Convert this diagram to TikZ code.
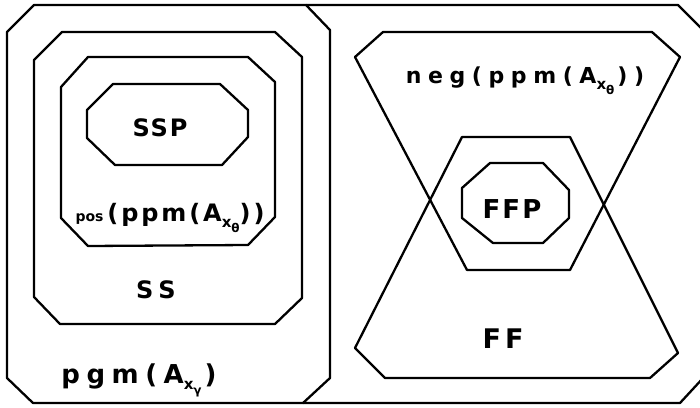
\documentclass[tikz,border=0pt]{standalone}
\usepackage{fontspec}
\setmainfont{DejaVu Sans}
\newcommand{\fsz}[1]{\fontsize{#1}{#1}\selectfont}
\newcommand{\subA}[1]{A\raisebox{-6pt}{\fsz{15}x\raisebox{-5pt}{\fsz{12}#1}}}
\tikzset{
  shape line/.style={draw=black, line width=2.3pt, line join=round},
  label text/.style={anchor=base, inner sep=0pt, font=\bfseries},
}
\begin{document}
\begin{tikzpicture}[x=1pt,y=-1pt]
\useasboundingbox (0,0) rectangle (700,407);
% left outer octagon
\draw[shape line] (34,5)--(306,5)--(330,30)--(330,378)--(303,403)--(33,403)--(7,378)--(7,32)--cycle;
% right outer frame
\draw[shape line] (306,5)--(678,5)--(704,31)--(704,377)--(680,403)--(303,403);
% SS
\draw[shape line] (62,32)--(275,32)--(302,57)--(302,298)--(275,324)--(60,324)--(34,297)--(34,60)--cycle;
% pos
\draw[shape line] (88,57)--(248,57)--(275,82)--(275,217)--(248,245)--(88,246)--(61,218)--(61,87)--cycle;
% SSP
\draw[shape line] (113,84)--(220,84)--(248,110)--(248,137)--(222,165)--(115,165)--(87,138)--(87,110)--cycle;
% neg
\draw[shape line] (383,32)--(652,32)--(680,57)--(570,270)--(467,270)--(355,57)--cycle;
% FF
\draw[shape line] (462,137)--(570,137)--(678,353)--(650,378)--(385,378)--(355,348)--cycle;
% FFP
\draw[shape line] (490,163)--(543,163)--(569,190)--(569,218)--(543,243)--(493,243)--(462,218)--(462,188)--cycle;
% labels
\node[label text] (ssp) at (160,136) {\fsz{24}\addfontfeature{LetterSpace=8}SSP};
\node[label text] (pos) at (170,221) {\fsz{14}pos\hspace{4pt}\fsz{24}\addfontfeature{LetterSpace=12}(ppm(\subA{θ}))};
\node[label text] (ss) at (156,298) {\fsz{24}S\hspace{5pt}S};
\node[label text] (pgm) at (139,383) {\fsz{26}\addfontfeature{LetterSpace=25}pgm(\subA{γ}\hspace{3pt})};
\node[label text] (neg) at (525,83) {\fsz{22}\addfontfeature{LetterSpace=30}neg(ppm(\subA{θ}\hspace{3pt}))};
\node[label text] (ffp) at (512,218) {\fsz{26}\addfontfeature{LetterSpace=8}FFP};
\node[label text] (ff) at (503,348) {\fsz{27}\addfontfeature{LetterSpace=15}FF};
\end{tikzpicture}
\end{document}
